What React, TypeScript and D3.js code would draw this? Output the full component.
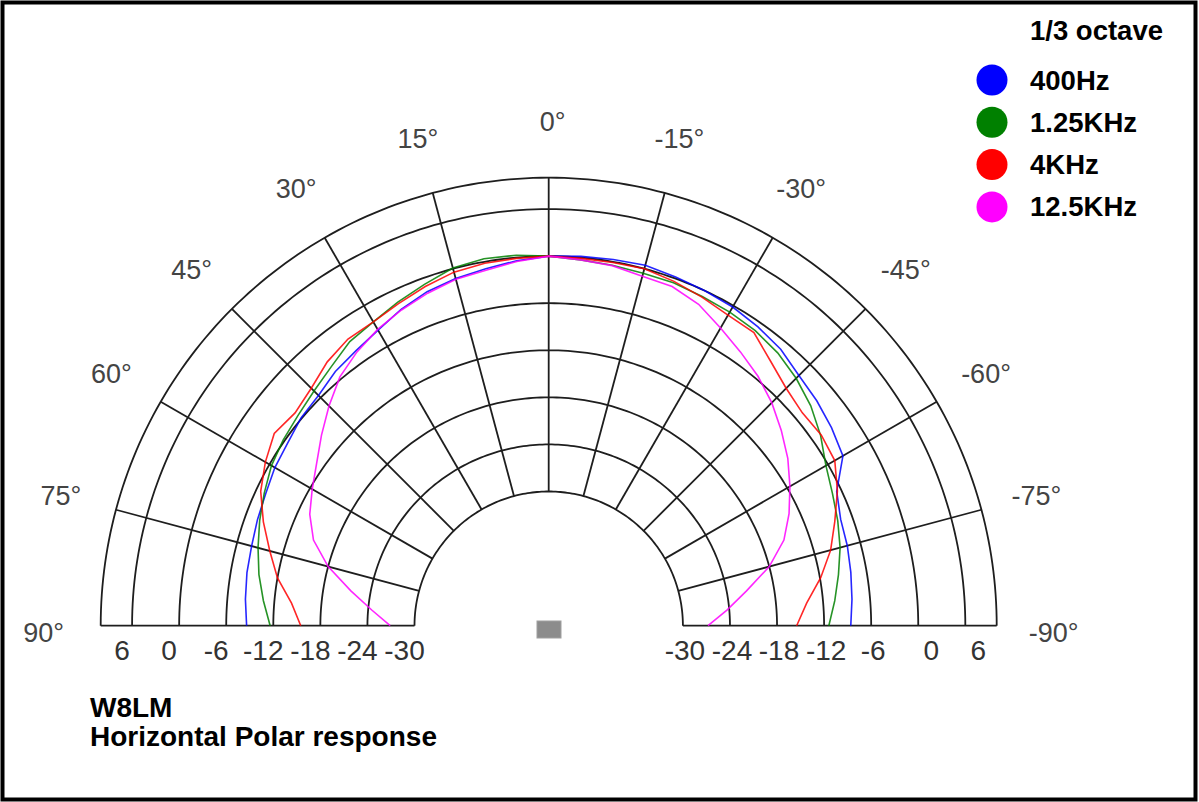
import React from "react";
import * as d3 from "d3";

// Angles (deg): positive = left side of the chart, negative = right side
const ANGLES = [-90, -85, -80, -75, -70, -65, -60, -55, -50, -45, -40, -35, -30, -25, -20, -15, -10, -5, 0,
  5, 10, 15, 20, 25, 30, 35, 40, 45, 50, 55, 60, 65, 70, 75, 80, 85, 90];

const HZ400 = [-8.6, -8.3, -8.0, -7.7, -7.5, -6.6, -3.8, -3.1, -2.5, -2.0, -1.1, -0.6, -0.2, 0.0, 0.2, 0.45, 0.3, 0.15, 0,
  -0.4, -0.9, -1.3, -1.8, -2.6, -3.6, -4.3, -4.8, -5.6, -5.9, -6.5, -6.8, -7.3, -7.6, -7.9, -8.05, -8.3, -8.6];

const KHZ125 = [-11.4, -10.5, -9.6, -8.65, -7.9, -7.2, -6.3, -4.8, -3.5, -2.5, -1.7, -1.2, -0.95, -0.8, -0.6, -0.6, -0.45, -0.3, 0,
  0.3, 0.4, 0.1, -0.8, -1.6, -2.4, -2.9, -4.0, -4.8, -5.4, -5.8, -6.3, -7.1, -7.9, -8.75, -9.6, -10.6, -11.6];

const KHZ4 = [-15.5, -14.1, -11.9, -9.9, -8.3, -6.5, -5.0, -4.7, -4.9, -4.3, -3.1, -1.5, -1.4, -0.9, -0.4, 0.0, -0.1, -0.1, 0,
  -0.1, -0.2, -0.45, -1.1, -1.8, -2.4, -2.5, -3.2, -4.3, -4.9, -4.4, -5.4, -6.6, -8.4, -10.3, -12.0, -14.2, -15.5];

const KHZ125B = [-26.8, -24.3, -21.5, -18.0, -15.2, -13.3, -11.6, -9.9, -8.4, -6.9, -5.6, -4.5, -3.3, -1.9, -1.1, -1.0, -0.5, -0.3, 0,
  -0.5, -1.1, -1.4, -2.0, -2.7, -3.5, -4.5, -5.7, -7.5, -9.3, -11.0, -12.3, -13.5, -15.2, -18.0, -21.5, -24.5, -26.9];

const SERIES_NAMES = ["400Hz", "1.25KHz", "4KHz", "12.5KHz"];
const SERIES_COLORS = ["#0000ff", "#008000", "#ff0000", "#ff00ff"];
const SERIES_VALUES = [HZ400, KHZ125, KHZ4, KHZ125B];

const RING_DB = [-30, -24, -18, -12, -6, 0, 6, 10];
const SPOKE_ANGLES = [-90, -75, -60, -45, -30, -15, 0, 15, 30, 45, 60, 75, 90];
const TICK_DB = [6, 0, -6, -12, -18, -24, -30];
const ANGLE_LABELS = ["90°", "75°", "60°", "45°", "30°", "15°", "0°", "-15°", "-30°", "-45°", "-60°", "-75°", "-90°"];
const ANGLE_LABEL_VALUES = [90, 75, 60, 45, 30, 15, 0, -15, -30, -45, -60, -75, -90];

const LEGEND_TITLE = "1/3 octave";
const TITLE_LINES = ["W8LM", "Horizontal Polar response"];

const W = 1199;
const H = 802;
const CX = 548.7;
const CY = 625.7;
const FONT = "'Liberation Sans', Arial, sans-serif";

export default function App() {
  const r = d3.scaleLinear().domain([-30, 10]).range([134.2, 448]);
  const toRad = (deg: number) => (-deg * Math.PI) / 180;
  const px = (deg: number, rad: number) => CX + rad * Math.sin(toRad(deg));
  const py = (deg: number, rad: number) => CY - rad * Math.cos(toRad(deg));

  const ringPath = (db: number) => {
    const rr = r(db);
    const pts: [number, number][] = d3.range(-90, 90.01, 1).map((a) => [toRad(a), rr]);
    return d3.lineRadial()(pts) || "";
  };

  const curve = (vals: number[]) =>
    d3
      .lineRadial<number>()
      .angle((_, i) => toRad(ANGLES[i]))
      .radius((v) => r(v))
      .curve(d3.curveLinear)(vals) || "";

  return (
    <svg
      width={W}
      height={H}
      style={{ position: "absolute", left: 0, top: 0, background: "#fff" }}
      fontFamily={FONT}
    >
      <rect x={0} y={0} width={W} height={H} fill="#fff" />
      <rect x={2.5} y={2.5} width={W - 6} height={H - 5} fill="none" stroke="#000" strokeWidth={4} />

      <g transform={`translate(${CX},${CY})`} fill="none" stroke="#1e1e1e" strokeWidth={1.8}>
        {RING_DB.map((db) => (
          <path key={db} d={ringPath(db)} />
        ))}
      </g>
      <g stroke="#1e1e1e" strokeWidth={1.8}>
        {SPOKE_ANGLES.map((a) => (
          <line key={a} x1={px(a, r(-30))} y1={py(a, r(-30))} x2={px(a, r(10))} y2={py(a, r(10))} />
        ))}
      </g>

      <g transform={`translate(${CX},${CY})`} fill="none" strokeWidth={1.6}>
        {SERIES_VALUES.map((vals, i) => (
          <path key={SERIES_NAMES[i]} d={curve(vals)} stroke={SERIES_COLORS[i]} strokeOpacity={0.85} />
        ))}
      </g>

      <rect x={537} y={621} width={24} height={17} fill="#8c8c8c" stroke="#a0a0a0" strokeWidth={1} />

      <g fontSize={28} fill="#333" textAnchor="middle">
        {TICK_DB.map((v) => (
          <text key={"l" + v} x={CX - r(v) - 10} y={660}>{v}</text>
        ))}
        {TICK_DB.map((v) => (
          <text key={"r" + v} x={CX + r(v) + (v >= 0 ? 13 : 2)} y={660}>{v}</text>
        ))}
      </g>

      <g fontSize={27} fill="#444" textAnchor="middle">
        {ANGLE_LABELS.map((lab, i) => {
          const a = ANGLE_LABEL_VALUES[i];
          return (
            <text key={lab} x={px(a, 505) + (a === 0 ? 4 : 0)} y={py(a, 505) + (Math.abs(a) === 90 ? 16 : 10)}>
              {lab}
            </text>
          );
        })}
      </g>

      <g fontWeight="bold" fill="#000" fontSize={27.5}>
        <text x={1030} y={40}>{LEGEND_TITLE}</text>
        {SERIES_NAMES.map((name, i) => (
          <g key={name}>
            <circle cx={992} cy={80 + i * 42.3} r={15.5} fill={SERIES_COLORS[i]} />
            <text x={1030} y={89.5 + i * 42.3}>{name}</text>
          </g>
        ))}
      </g>

      <g fontWeight="bold" fill="#000" fontSize={28}>
        <text x={90} y={717}>{TITLE_LINES[0]}</text>
        <text x={90} y={746}>{TITLE_LINES[1]}</text>
      </g>
    </svg>
  );
}
